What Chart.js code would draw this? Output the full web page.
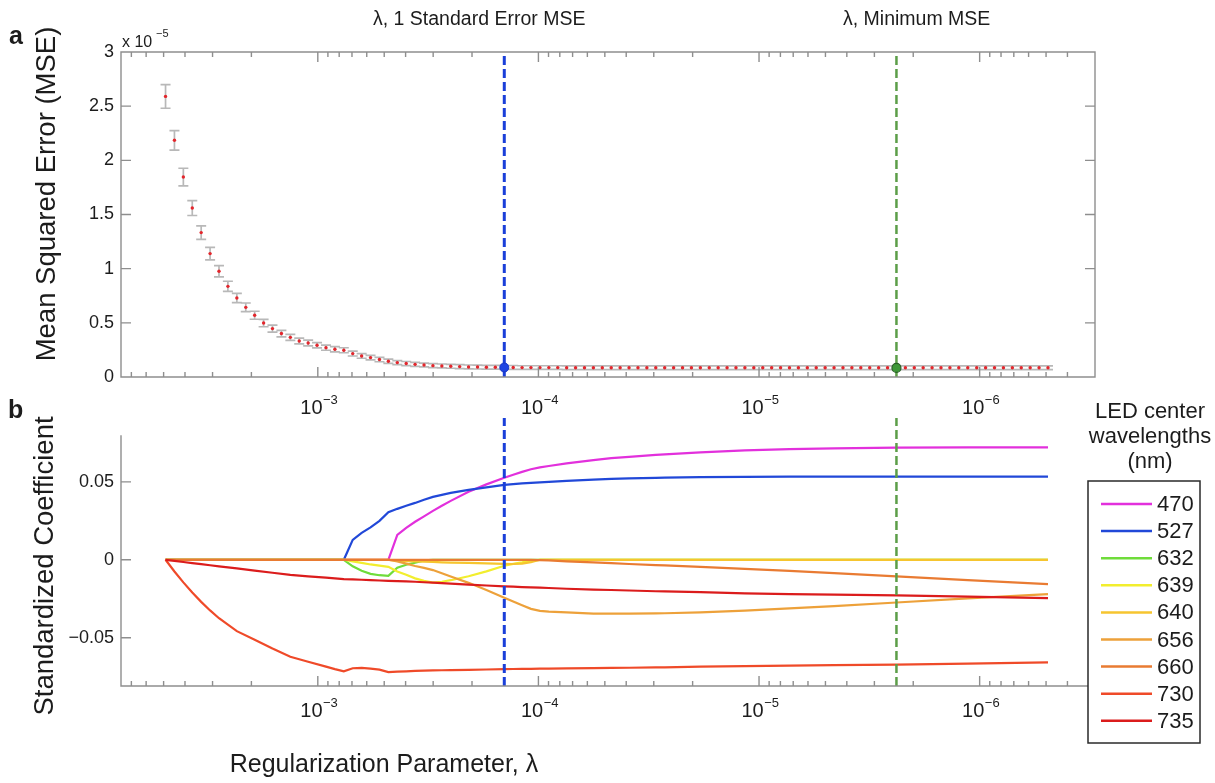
<!DOCTYPE html>
<html>
<head>
<meta charset="utf-8">
<title>Lasso cross-validation</title>
<script src="https://cdn.jsdelivr.net/npm/chart.js@4.4.1/dist/chart.umd.min.js"></script>
<style>
  html, body { margin: 0; padding: 0; background: #ffffff; }
  #wrap { position: relative; width: 1215px; height: 783px; overflow: hidden; background: #fff; }
  #wrap canvas { position: absolute; left: 0; top: 0; }
</style>
</head>
<body>
<div id="wrap">
  <canvas id="chartA" width="1215" height="783"></canvas>
  <canvas id="chartB" width="1215" height="783"></canvas>
</div>
<script>
// ---------------- DATA ----------------
// Regularization parameter grid (100 lambda values, read from point positions)
const lambdas = [
  4.900e-3, 4.465e-3, 4.069e-3, 3.707e-3, 3.378e-3, 3.078e-3, 2.805e-3, 2.556e-3, 2.328e-3, 2.121e-3,
  1.933e-3, 1.761e-3, 1.605e-3, 1.462e-3, 1.332e-3, 1.214e-3, 1.106e-3, 1.008e-3, 9.182e-4, 8.366e-4,
  7.623e-4, 6.946e-4, 6.329e-4, 5.767e-4, 5.254e-4, 4.788e-4, 4.362e-4, 3.975e-4, 3.622e-4, 3.300e-4,
  3.007e-4, 2.740e-4, 2.497e-4, 2.275e-4, 2.073e-4, 1.888e-4, 1.721e-4, 1.568e-4, 1.428e-4, 1.301e-4,
  1.186e-4, 1.081e-4, 9.845e-5, 8.971e-5, 8.174e-5, 7.448e-5, 6.786e-5, 6.183e-5, 5.634e-5, 5.134e-5,
  4.677e-5, 4.262e-5, 3.883e-5, 3.538e-5, 3.224e-5, 2.938e-5, 2.677e-5, 2.439e-5, 2.222e-5, 2.025e-5,
  1.845e-5, 1.681e-5, 1.532e-5, 1.396e-5, 1.272e-5, 1.159e-5, 1.056e-5, 9.619e-6, 8.765e-6, 7.986e-6,
  7.277e-6, 6.631e-6, 6.041e-6, 5.505e-6, 5.016e-6, 4.570e-6, 4.164e-6, 3.794e-6, 3.457e-6, 3.150e-6,
  2.870e-6, 2.615e-6, 2.383e-6, 2.171e-6, 1.978e-6, 1.803e-6, 1.643e-6, 1.497e-6, 1.364e-6, 1.243e-6,
  1.132e-6, 1.031e-6, 9.398e-7, 8.563e-7, 7.802e-7, 7.109e-7, 6.478e-7, 5.902e-7, 5.378e-7, 4.900e-7
];
// Mean squared error, in units of 10^-5
const mseE5 = [
  2.59, 2.185, 1.846, 1.56, 1.333, 1.139, 0.976, 0.837, 0.729, 0.643,
  0.57, 0.498, 0.447, 0.401, 0.366, 0.332, 0.314, 0.293, 0.271, 0.256,
  0.247, 0.216, 0.194, 0.179, 0.161, 0.145, 0.133, 0.124, 0.117, 0.111,
  0.105, 0.102, 0.099, 0.096, 0.093, 0.092, 0.090, 0.090, 0.088, 0.088,
  0.087, 0.087, 0.087, 0.087, 0.087, 0.086, 0.086, 0.086, 0.086, 0.086,
  0.086, 0.086, 0.086, 0.086, 0.086, 0.086, 0.086, 0.086, 0.086, 0.086,
  0.085, 0.085, 0.085, 0.085, 0.085, 0.085, 0.085, 0.085, 0.085, 0.085,
  0.085, 0.085, 0.085, 0.085, 0.085, 0.085, 0.085, 0.085, 0.085, 0.085,
  0.085, 0.085, 0.084, 0.085, 0.085, 0.085, 0.085, 0.085, 0.085, 0.085,
  0.085, 0.085, 0.085, 0.085, 0.085, 0.085, 0.085, 0.085, 0.085, 0.085
];
// Standard error of the MSE, in units of 10^-5
const mseSE = [
  0.109, 0.090, 0.081, 0.069, 0.062, 0.057, 0.052, 0.047, 0.043, 0.040,
  0.037, 0.034, 0.032, 0.030, 0.028, 0.027, 0.026, 0.025, 0.024, 0.024,
  0.023, 0.022, 0.021, 0.021, 0.020, 0.020, 0.019, 0.019, 0.018, 0.018,
  0.018, 0.018, 0.018, 0.018, 0.018, 0.018, 0.018, 0.018, 0.018, 0.018,
  0.017, 0.017, 0.017, 0.017, 0.017, 0.017, 0.017, 0.017, 0.017, 0.017,
  0.017, 0.017, 0.017, 0.017, 0.017, 0.017, 0.017, 0.017, 0.017, 0.017,
  0.017, 0.017, 0.017, 0.017, 0.017, 0.017, 0.017, 0.017, 0.017, 0.017,
  0.017, 0.017, 0.017, 0.017, 0.017, 0.017, 0.017, 0.017, 0.017, 0.017,
  0.017, 0.017, 0.017, 0.017, 0.017, 0.017, 0.017, 0.017, 0.017, 0.017,
  0.017, 0.017, 0.017, 0.017, 0.017, 0.017, 0.017, 0.017, 0.017, 0.017
];
const idx1SE = 38;   // lambda, 1 standard error MSE
const idxMin = 82;   // lambda, minimum MSE

// Lambda values at which the coefficient paths were read
const pathLambda = [
  4.900e-3, 4.465e-3, 4.069e-3, 3.707e-3, 3.378e-3, 3.078e-3, 2.805e-3, 2.328e-3, 1.933e-3, 1.605e-3,
  1.332e-3, 1.214e-3, 1.106e-3, 9.182e-4, 8.366e-4, 7.623e-4, 6.946e-4, 6.329e-4, 5.767e-4, 5.254e-4,
  4.788e-4, 4.362e-4, 3.975e-4, 3.622e-4, 3.300e-4, 3.007e-4, 2.740e-4, 2.497e-4, 2.073e-4, 1.721e-4,
  1.428e-4, 1.301e-4, 1.186e-4, 1.081e-4, 9.845e-5, 8.971e-5, 7.448e-5, 5.634e-5, 4.677e-5, 3.883e-5,
  2.938e-5, 2.677e-5, 1.845e-5, 1.159e-5, 7.277e-6, 4.570e-6, 2.383e-6, 1.132e-6, 4.900e-7
];
const coef470 = [0,0,0,0,0,0,0,0,0,0, 0,0,0,0,0,0,0,0,0,0, 0,
  0.016, 0.0205, 0.0244, 0.0279, 0.0314, 0.0347, 0.0378, 0.0436, 0.0484, 0.0526, 0.0546, 0.0564, 0.0581,
  0.0593, 0.0602, 0.0619, 0.064, 0.0652, 0.0661, 0.0673, 0.0676, 0.0689, 0.0702, 0.071, 0.0715, 0.072, 0.0722, 0.0722];
const coef527 = [0,0,0,0,0,0,0,0,0,0, 0,0,0,0,0,0,
  0.0128, 0.0173, 0.0208, 0.025, 0.0305, 0.0327, 0.0347, 0.0365, 0.0385, 0.0404, 0.0417, 0.0429, 0.0449,
  0.0465, 0.0481, 0.0486, 0.049, 0.0494, 0.0497, 0.05, 0.0506, 0.0514, 0.0519, 0.0522, 0.0526, 0.0527,
  0.053, 0.0532, 0.0534, 0.0534, 0.0534, 0.0534, 0.0534];
const coef632 = [0,0,0,0,0,0,0,0,0,0, 0,0,0,0,0,0,
  -0.0042, -0.007, -0.009, -0.0099, -0.0103, -0.0051, -0.0032, -0.0019, -0.0004, 0,
  0,0,0,0,0,0,0,0,0,0, 0,0,0,0,0,0,0,0,0,0, 0,0,0];
const coef639 = [0,0,0,0,0,0,0,0,0,0, 0,0,0,0,0,0,
  -0.001, -0.002, -0.003, -0.0037, -0.0045, -0.0075, -0.0096, -0.0119, -0.0135, -0.0146, -0.0141, -0.0131,
  -0.0106, -0.0074, -0.0038, -0.0026, -0.0017, -0.0006, 0,
  0,0,0,0,0,0,0,0,0,0, 0,0,0,0];
const coef640 = [0,0,0,0,0,0,0,0,0,0, 0,0,0,0,0,0,0,0,0,0, 0,
  -0.0005, -0.0008, -0.001, -0.0012, -0.0014, -0.0016, -0.0018, -0.002, -0.0023, -0.0026, -0.0027, -0.0025, -0.0015, 0,
  0,0,0,0,0,0,0,0,0,0, 0,0,0,0];
const coef656 = [0,0,0,0,0,0,0,0,0,0, 0,0,0,0,0,0,0,0,0,0, 0,
  -0.001, -0.0025, -0.004, -0.0052, -0.0066, -0.0086, -0.0107, -0.0148, -0.0194, -0.0243, -0.0268, -0.0292,
  -0.0315, -0.0328, -0.0333, -0.0338, -0.0345, -0.0346, -0.0346, -0.0344, -0.0343, -0.0338, -0.0326, -0.0312,
  -0.0297, -0.0274, -0.0248, -0.022];
const coef660 = [0,0,0,0,0,0,0,0,0,0, 0,0,0,0,0,0,0,0,0,0, 0,0,0,0,0,0,0,0,0,0, 0,0,0,0,
  -0.0002, -0.0004, -0.001, -0.0017, -0.0022, -0.0027, -0.0034, -0.0036, -0.0046, -0.0058, -0.0071, -0.0086,
  -0.0107, -0.013, -0.0156];
const coef730 = [0, -0.0075, -0.0145, -0.021, -0.027, -0.0325, -0.0375, -0.0458, -0.0513, -0.057,
  -0.0622, -0.0638, -0.0654, -0.0686, -0.0702, -0.0716, -0.0696, -0.0694, -0.0699, -0.0705,
  -0.0721, -0.0718, -0.0716, -0.0713, -0.0711, -0.071, -0.0709, -0.0708, -0.0706, -0.0704,
  -0.0702, -0.0701, -0.07, -0.07, -0.0699, -0.0698, -0.0697, -0.0695, -0.0694, -0.0693,
  -0.0691, -0.069, -0.0686, -0.0683, -0.0679, -0.0676, -0.0673, -0.0666, -0.0658];
const coef735 = [0, -0.0007, -0.0014, -0.0021, -0.0028, -0.0035, -0.0042, -0.0055, -0.0069, -0.0083,
  -0.0097, -0.0102, -0.0106, -0.0115, -0.0119, -0.0124, -0.0126, -0.0128, -0.013, -0.0133,
  -0.0135, -0.0137, -0.0139, -0.0141, -0.0144, -0.0147, -0.015, -0.0153, -0.0159, -0.0165,
  -0.017, -0.0172, -0.0175, -0.0177, -0.0179, -0.0181, -0.0186, -0.0191, -0.0194, -0.0197,
  -0.0202, -0.0203, -0.0208, -0.0215, -0.022, -0.0224, -0.0229, -0.0237, -0.0246];

const wavelengthLabels = ['470', '527', '632', '639', '640', '656', '660', '730', '735'];
const coefSeries = [coef470, coef527, coef632, coef639, coef640, coef656, coef660, coef730, coef735];
const legendTitleLines = ['LED center', 'wavelengths', '(nm)'];

// Tick labels
const xTickValues = [1e-3, 1e-4, 1e-5, 1e-6];
const xTickBase = '10';
const xTickExponents = ['\u22123', '\u22124', '\u22125', '\u22126'];
const yTicksA = [0, 0.5, 1, 1.5, 2, 2.5, 3];
const yTickLabelsA = ['0', '0.5', '1', '1.5', '2', '2.5', '3'];
const yTicksB = [-0.05, 0, 0.05];
const yTickLabelsB = ['\u22120.05', '0', '0.05'];

// ---------------- STYLE ----------------
const FONT = '"Liberation Sans", Arial, Helvetica, sans-serif';
const TEXT = '#1c1c1c';
const AXIS = '#8e8e8e';
const lineColors = ['#e230dc', '#2148d8', '#6fdc3a', '#f2ee2e', '#f6c52f', '#eda13a', '#e97b32', '#ef4a29', '#db1c1c'];
const BLUE = '#1a3fd9', GREEN = '#5c9e48';

const X_MAX = 7.8e-3, X_MIN = 3.0e-7;
const Y_MIN_A = 0, Y_MAX_A = 3;
const Y_MIN_B = -0.081, Y_MAX_B = 0.091, Y_AXIS_TOP_B = 0.08;

Chart.defaults.font.family = FONT;
Chart.defaults.color = TEXT;

function pts(xs, ys) { return xs.map((x, i) => ({ x: x, y: ys[i] })); }
function labelFrom(ticks, labels) {
  return v => { const k = ticks.findIndex(t => Math.abs(t - v) < 1e-9); return k >= 0 ? labels[k] : ''; };
}

// ---------------- PLUGINS ----------------
const axesPlugin = {
  id: 'matlabAxes',
  afterDatasetsDraw(chart, args, o) {
    const { ctx, chartArea: ca, scales } = chart;
    const xs = scales.x, ys = scales.y;
    const top = (o.axisTop !== undefined && o.axisTop !== null) ? ys.getPixelForValue(o.axisTop) : ca.top;
    ctx.save();
    ctx.strokeStyle = AXIS; ctx.lineWidth = 1.4;
    ctx.beginPath();
    ctx.moveTo(ca.left, top); ctx.lineTo(ca.left, ca.bottom); ctx.lineTo(ca.right, ca.bottom);
    if (o.box) { ctx.lineTo(ca.right, ca.top); ctx.lineTo(ca.left, ca.top); ctx.closePath(); }
    ctx.stroke();
    ctx.beginPath();
    xs.ticks.forEach(t => {
      const v = t.value;
      if (!(v > xs.min * 1.0001 && v < xs.max * 0.9999)) return;
      const e = Math.floor(Math.log10(v) + 1e-9);
      const m = v / Math.pow(10, e);
      if (Math.abs(m - Math.round(m)) > 1e-6) return;
      const len = Math.round(m) === 1 ? 10 : 5;
      const px = xs.getPixelForValue(v);
      ctx.moveTo(px, ca.bottom); ctx.lineTo(px, ca.bottom - len);
      if (o.box) { ctx.moveTo(px, ca.top); ctx.lineTo(px, ca.top + len); }
    });
    ys.ticks.forEach(t => {
      const py = ys.getPixelForValue(t.value);
      if (py <= ca.top + 1 || py >= ca.bottom - 1) return;
      ctx.moveTo(ca.left, py); ctx.lineTo(ca.left + 10, py);
      if (o.box) { ctx.moveTo(ca.right, py); ctx.lineTo(ca.right - 10, py); }
    });
    ctx.stroke();
    ctx.restore();
  }
};

const errorBarPlugin = {
  id: 'errorBars',
  beforeDatasetsDraw(chart) {
    const { ctx, scales } = chart;
    const xs = scales.x, ys = scales.y;
    ctx.save();
    ctx.strokeStyle = '#b8b8b8'; ctx.lineWidth = 1.7;
    ctx.beginPath();
    lambdas.forEach((lam, i) => {
      const px = xs.getPixelForValue(lam);
      const yt = ys.getPixelForValue(mseE5[i] + mseSE[i]);
      const yb = ys.getPixelForValue(mseE5[i] - mseSE[i]);
      ctx.moveTo(px, yt); ctx.lineTo(px, yb);
      ctx.moveTo(px - 5, yt); ctx.lineTo(px + 5, yt);
      ctx.moveTo(px - 5, yb); ctx.lineTo(px + 5, yb);
    });
    ctx.stroke();
    ctx.restore();
  }
};

const annotPlugin = {
  id: 'annot',
  afterDraw(chart, args, o) {
    const ctx = chart.ctx;
    ctx.save();
    (o.items || []).forEach(it => {
      ctx.save();
      ctx.font = it.font;
      ctx.fillStyle = TEXT;
      ctx.textAlign = it.align || 'left';
      ctx.textBaseline = it.baseline || 'alphabetic';
      ctx.translate(it.x, it.y);
      if (it.rotate) ctx.rotate(it.rotate);
      ctx.fillText(it.text, 0, 0);
      ctx.restore();
    });
    if (o.powerTicks) {
      const xs = chart.scales.x;
      const base = chart.chartArea.bottom + o.powerTicks.dy;
      const f1 = '20px ' + FONT, f2 = '13px ' + FONT;
      ctx.fillStyle = TEXT; ctx.textAlign = 'left'; ctx.textBaseline = 'alphabetic';
      xTickValues.forEach((v, k) => {
        const px = xs.getPixelForValue(v);
        ctx.font = f1; const w1 = ctx.measureText(xTickBase).width;
        ctx.font = f2; const w2 = ctx.measureText(xTickExponents[k]).width;
        const x0 = px - (w1 + w2) / 2 + 1;
        ctx.font = f1; ctx.fillText(xTickBase, x0, base);
        ctx.font = f2; ctx.fillText(xTickExponents[k], x0 + w1 + 0.5, base - 10);
      });
    }
    ctx.restore();
  }
};

const legendPlugin = {
  id: 'boxLegend',
  afterDraw(chart, args, o) {
    const ctx = chart.ctx;
    ctx.save();
    ctx.font = o.font; ctx.fillStyle = TEXT;
    ctx.textAlign = 'center'; ctx.textBaseline = 'middle';
    legendTitleLines.forEach((t, k) => ctx.fillText(t, o.titleX, o.titleY + k * o.titleStep));
    ctx.fillStyle = '#ffffff';
    ctx.fillRect(o.box[0], o.box[1], o.box[2] - o.box[0], o.box[3] - o.box[1]);
    ctx.strokeStyle = '#2a2a2a'; ctx.lineWidth = 1.5;
    ctx.strokeRect(o.box[0], o.box[1], o.box[2] - o.box[0], o.box[3] - o.box[1]);
    const items = chart.data.datasets.filter(d => d.inLegend);
    items.forEach((d, k) => {
      const y = o.itemY + k * o.itemStep;
      ctx.strokeStyle = d.borderColor; ctx.lineWidth = 2.5;
      ctx.beginPath(); ctx.moveTo(o.lineX0, y - 1); ctx.lineTo(o.lineX1, y - 1); ctx.stroke();
      ctx.fillStyle = TEXT; ctx.textAlign = 'left'; ctx.textBaseline = 'middle';
      ctx.fillText(d.label, o.textX, y);
    });
    ctx.restore();
  }
};

const hiddenGrid = { display: false, drawTicks: false };

// ---------------- CHART A : MSE ----------------
new Chart(document.getElementById('chartA'), {
  type: 'scatter',
  data: {
    datasets: [
      { label: '1SE', data: [{ x: lambdas[idx1SE], y: mseE5[idx1SE] }], pointRadius: 4.5,
        pointBackgroundColor: '#1f45e2', pointBorderColor: '#1836c4', pointBorderWidth: 1, order: 0 },
      { label: 'min', data: [{ x: lambdas[idxMin], y: mseE5[idxMin] }], pointRadius: 4.5,
        pointBackgroundColor: '#3e9838', pointBorderColor: '#2a5e26', pointBorderWidth: 1.2, order: 0 },
      { label: 'MSE', data: pts(lambdas, mseE5), pointRadius: 1.7, pointBackgroundColor: '#e3262c',
        pointBorderWidth: 0, showLine: false, order: 2 },
      { label: 'line1SE', data: [{ x: lambdas[idx1SE], y: Y_MIN_A }, { x: lambdas[idx1SE], y: Y_MAX_A }],
        showLine: true, borderColor: BLUE, borderWidth: 3, borderDash: [9, 4], pointRadius: 0, order: 3 },
      { label: 'lineMin', data: [{ x: lambdas[idxMin], y: Y_MIN_A }, { x: lambdas[idxMin], y: Y_MAX_A }],
        showLine: true, borderColor: GREEN, borderWidth: 2.5, borderDash: [9, 4], pointRadius: 0, order: 3 }
    ]
  },
  options: {
    responsive: false, animation: false, events: [],
    layout: { padding: { left: 0, right: 120, top: 52, bottom: 366 } },
    plugins: {
      legend: { display: false }, tooltip: { enabled: false },
      matlabAxes: { box: true },
      annot: {
        powerTicks: { dy: 37 },
        items: [
          { text: 'a', x: 9, y: 44, font: 'bold 25px ' + FONT },
          { text: 'x 10', x: 122, y: 47, font: '16px ' + FONT },
          { text: '\u22125', x: 156, y: 37, font: '11px ' + FONT },
          { text: 'Mean Squared Error (MSE)', x: 47, y: 194, rotate: -Math.PI / 2, align: 'center', baseline: 'middle', font: '27.5px ' + FONT },
          { text: '\u03bb, 1 Standard Error MSE', x: 373, y: 25, font: '19.5px ' + FONT },
          { text: '\u03bb, Minimum MSE', x: 843, y: 25, font: '19.5px ' + FONT }
        ]
      }
    },
    scales: {
      x: { type: 'logarithmic', reverse: true, min: X_MIN, max: X_MAX, grid: hiddenGrid, border: { display: false },
           ticks: { display: false, autoSkip: false }, afterFit: s => { s.height = 40; } },
      y: { type: 'linear', min: Y_MIN_A, max: Y_MAX_A, grid: hiddenGrid, border: { display: false },
           ticks: { font: { size: 18 }, padding: 7, color: TEXT, callback: labelFrom(yTicksA, yTickLabelsA) },
           afterBuildTicks: s => { s.ticks = yTicksA.map(v => ({ value: v })); },
           afterFit: s => { s.width = 121; } }
    }
  },
  plugins: [errorBarPlugin, axesPlugin, annotPlugin]
});

// ---------------- CHART B : coefficient paths ----------------
const coefDatasets = coefSeries.map((vals, k) => ({
  label: wavelengthLabels[k], data: pts(pathLambda, vals), showLine: true,
  borderColor: lineColors[k], borderWidth: 2.2, pointRadius: 0, order: 20 - k, inLegend: true
}));

new Chart(document.getElementById('chartB'), {
  type: 'scatter',
  data: {
    datasets: coefDatasets.concat([
      { label: 'line1SE', data: [{ x: lambdas[idx1SE], y: Y_MIN_B }, { x: lambdas[idx1SE], y: Y_MAX_B }],
        showLine: true, borderColor: BLUE, borderWidth: 3, borderDash: [9, 4], pointRadius: 0, order: 0 },
      { label: 'lineMin', data: [{ x: lambdas[idxMin], y: Y_MIN_B }, { x: lambdas[idxMin], y: Y_MAX_B }],
        showLine: true, borderColor: GREEN, borderWidth: 2.5, borderDash: [9, 4], pointRadius: 0, order: 0 }
    ])
  },
  options: {
    responsive: false, animation: false, events: [],
    layout: { padding: { left: 0, right: 120, top: 418, bottom: 57 } },
    plugins: {
      legend: { display: false }, tooltip: { enabled: false },
      matlabAxes: { box: false, axisTop: Y_AXIS_TOP_B },
      annot: {
        powerTicks: { dy: 31 },
        items: [
          { text: 'b', x: 8, y: 418, font: 'bold 25px ' + FONT },
          { text: 'Standardized Coefficient', x: 45, y: 566, rotate: -Math.PI / 2, align: 'center', baseline: 'middle', font: '27.5px ' + FONT },
          { text: 'Regularization Parameter, \u03bb', x: 384, y: 765, align: 'center', baseline: 'middle', font: '25px ' + FONT }
        ]
      },
      boxLegend: {
        font: '22px ' + FONT, titleX: 1150, titleY: 412, titleStep: 25,
        box: [1088, 481, 1200, 743], itemY: 505, itemStep: 27.1,
        lineX0: 1101, lineX1: 1152, textX: 1157
      }
    },
    scales: {
      x: { type: 'logarithmic', reverse: true, min: X_MIN, max: X_MAX, grid: hiddenGrid, border: { display: false },
           ticks: { display: false, autoSkip: false }, afterFit: s => { s.height = 40; } },
      y: { type: 'linear', min: Y_MIN_B, max: Y_MAX_B, grid: hiddenGrid, border: { display: false },
           ticks: { font: { size: 18 }, padding: 7, color: TEXT, callback: labelFrom(yTicksB, yTickLabelsB) },
           afterBuildTicks: s => { s.ticks = yTicksB.map(v => ({ value: v })); },
           afterFit: s => { s.width = 121; } }
    }
  },
  plugins: [axesPlugin, annotPlugin, legendPlugin]
});
</script>
</body>
</html>
